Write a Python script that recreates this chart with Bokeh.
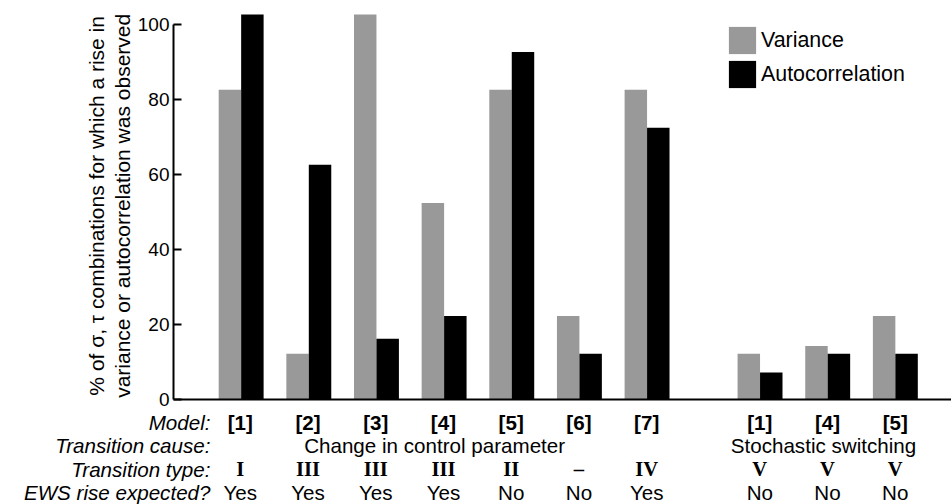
import math
from bokeh.plotting import figure
from bokeh.models import (ColumnDataSource, FixedTicker, Legend, LegendItem,
                          LabelSet, Label, Range1d)
from bokeh.layouts import column, row
from bokeh.transform import dodge
from bokeh.embed import file_html
from bokeh.resources import INLINE
from bokeh.core.properties import value

# ---- data ----
models = ["[1]", "[2]", "[3]", "[4]", "[5]", "[6]", "[7]", "[1]", "[4]", "[5]"]
positions = [1, 2, 3, 4, 5, 6, 7, 8.67, 9.67, 10.67]
variance = [82.6, 12.2, 102.7, 52.4, 82.6, 22.3, 82.6, 12.2, 14.3, 22.3]
autocorr = [102.7, 62.6, 16.2, 22.3, 92.7, 12.2, 72.5, 7.2, 12.2, 12.2]
transition_type = ["I", "III", "III", "III", "II", "–", "IV", "V", "V", "V"]
ews_expected = ["Yes", "Yes", "Yes", "Yes", "No", "No", "Yes", "No", "No", "No"]
cause_labels = ["Change in control parameter", "Stochastic switching"]
cause_positions = [3.87, 9.61]
row_titles = ["Model:", "Transition cause:", "Transition type:", "EWS rise expected?"]
y_ticks = [0, 20, 40, 60, 80, 100]
y_label_lines = ["% of σ, τ combinations for which a rise in",
                 "variance or autocorrelation was observed"]
series_names = ["Variance", "Autocorrelation"]

FONT = "Liberation Sans"
FS = "21.4px"
ROW_FS = "20.6px"
TICK_FS = "19px"
GRAY = "#999999"

X_END = 11.5
FRAME_LEFT = 172
MAIN_H = 410
FRAME_H = 399
TOTAL_W, TOTAL_H = 951, 504
YLAB_W = 134

src = ColumnDataSource(dict(x=positions, variance=variance, autocorr=autocorr,
                            model=models, ttype=transition_type, ews=ews_expected))

# ---------- y-label panel ----------
ylab = figure(width=YLAB_W, height=MAIN_H, output_backend="svg", toolbar_location=None,
              x_range=Range1d(0, YLAB_W), y_range=Range1d(MAIN_H, 0),
              x_axis_location=None, y_axis_location=None, min_border=0)
ylab.outline_line_color = None
ylab.grid.visible = False
for xl, line in zip([96, 122], y_label_lines):
    ylab.add_layout(Label(x=xl, y=211, text=line, angle=math.pi / 2,
                          text_font=FONT, text_font_size="21px", text_color="black",
                          text_align="center", text_baseline="middle"))

# ---------- main chart ----------
p = figure(width=TOTAL_W - YLAB_W, height=MAIN_H, output_backend="svg",
           toolbar_location=None,
           x_range=Range1d(0, X_END), y_range=Range1d(0, 106.4),
           min_border_left=FRAME_LEFT - YLAB_W, min_border_right=0, min_border_top=0,
           min_border_bottom=MAIN_H - FRAME_H)
p.outline_line_color = None
p.grid.visible = False

bw = 0.332
r_v = p.vbar(x=dodge("x", -bw / 2, range=p.x_range), top="variance", width=bw,
             source=src, fill_color=GRAY, line_color=None)
r_a = p.vbar(x=dodge("x", bw / 2, range=p.x_range), top="autocorr", width=bw,
             source=src, fill_color="black", line_color=None)

ya = p.yaxis[0]
ya.ticker = FixedTicker(ticks=y_ticks)
ya.bounds = (0, 100)
ya.axis_line_width = 2
ya.major_tick_line_width = 2
ya.major_tick_in = 8
ya.major_tick_out = 0
ya.minor_tick_line_color = None
ya.major_label_standoff = 4
ya.major_label_text_font = FONT
ya.major_label_text_font_size = TICK_FS
ya.major_label_text_color = "black"

xa = p.xaxis[0]
xa.ticker = FixedTicker(ticks=[])
xa.axis_line_width = 2
xa.major_tick_line_color = None
xa.minor_tick_line_color = None
xa.major_label_standoff = 0
xa.major_label_text_font_size = "0px"

legend = Legend(items=[LegendItem(label=series_names[0], renderers=[r_v]),
                       LegendItem(label=series_names[1], renderers=[r_a])],
                location=(552, 308), glyph_width=34, glyph_height=34, spacing=-3,
                padding=0, margin=0, border_line_color=None,
                background_fill_alpha=0, label_text_font=FONT,
                label_text_font_size=FS, label_text_color="black", label_standoff=2)
p.add_layout(legend)

# ---------- table below ----------
scale = (TOTAL_W - FRAME_LEFT) / X_END
TAB_H = TOTAL_H - MAIN_H
t = figure(width=TOTAL_W, height=TAB_H, output_backend="svg", toolbar_location=None,
           x_range=Range1d(-FRAME_LEFT / scale, X_END), y_range=Range1d(TAB_H, 0),
           x_axis_location=None, y_axis_location=None, min_border=0)
t.outline_line_color = None
t.grid.visible = False

row_y = [11.5, 35, 58.5, 82]
common = dict(text_font=value(FONT), text_font_size=value(ROW_FS), text_color="black",
              text_baseline="middle")
t.add_layout(LabelSet(x="x", y=row_y[0], text="model", source=src,
                      text_font_style="bold", text_align="center", **common))
cause_src = ColumnDataSource(dict(x=cause_positions, text=cause_labels))
t.add_layout(LabelSet(x="x", y=row_y[1], text="text", source=cause_src,
                      text_align="center", **common))
t.add_layout(LabelSet(x="x", y=row_y[2], text="ttype", source=src,
                      text_font=value("Liberation Serif"), text_font_size=value(ROW_FS),
                      text_color="black", text_baseline="middle",
                      text_font_style="bold", text_align="center"))
t.add_layout(LabelSet(x="x", y=row_y[3], text="ews", source=src,
                      text_align="center", **common))
title_src = ColumnDataSource(dict(y=row_y, text=row_titles))
t.add_layout(LabelSet(x=(210 - FRAME_LEFT) / scale, y="y", text="text", source=title_src,
                      text_font_style="italic", text_align="right", **common))

layout = column(row(ylab, p), t)
open("out.html", "w").write(file_html(layout, INLINE))
